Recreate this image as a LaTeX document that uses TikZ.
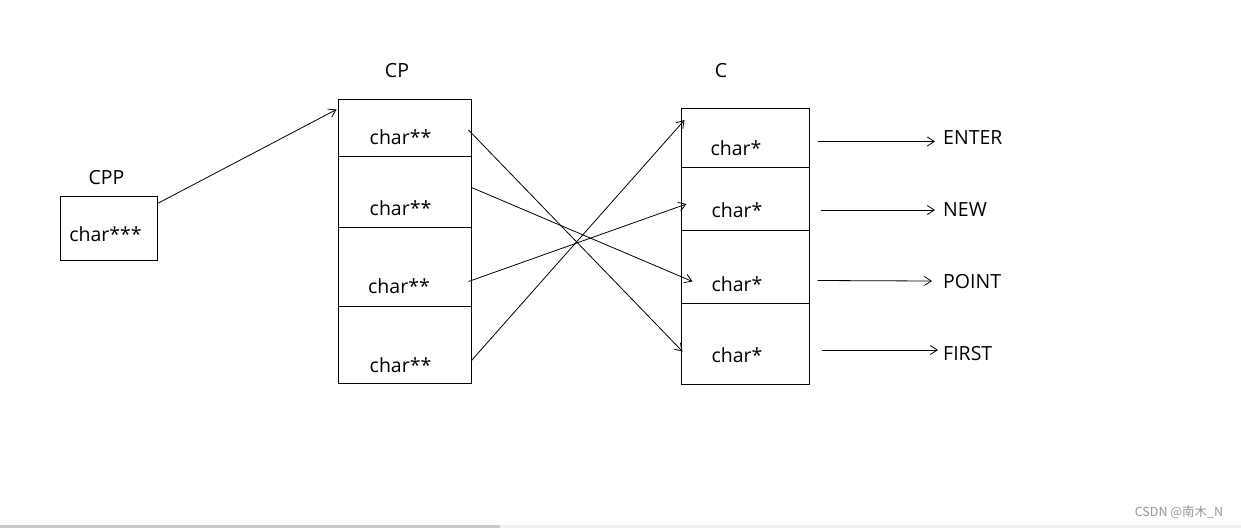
\documentclass[tikz,border=0pt]{standalone}
\usepackage{fontspec}
\setmainfont{Open Sans}
\newfontfamily\cjkfont{Noto Sans CJK SC}
\usetikzlibrary{arrows.meta, positioning}
\definecolor{markgray}{RGB}{150,150,150}
\definecolor{barA}{RGB}{200,200,200}
\definecolor{barB}{RGB}{240,240,240}
\tikzstyle{cell} = [rectangle, draw=black, line width=1pt, inner sep=0pt]
\tikzstyle{word} = [inner sep=0pt, font=\fontsize{19.5}{23}\selectfont]
\tikzstyle{arrow} = [line width=0.8pt, -{Straight Barb[length=7pt,width=9pt]}]

\begin{document}
\begin{tikzpicture}[x=1pt, y=-1pt]
\useasboundingbox (0,0) rectangle (1241,528);
% CPP
\node (cppbox) [cell, minimum width=97pt, minimum height=64pt] at (108.5,228) {};
\node (cpptitle) [word] at (106.5,178) {CPP};
\node (cpptext) [word] at (105.5,234.5) {char***};
% CP
\node (cptitle) [word] at (397,71) {CP};
\node (cp1) [cell, minimum width=133pt, minimum height=57pt] at (404.5,127.5) {};
\node (cp2) [cell, minimum width=133pt, minimum height=71pt] at (404.5,191.5) {};
\node (cp3) [cell, minimum width=133pt, minimum height=79pt] at (404.5,266.5) {};
\node (cp4) [cell, minimum width=133pt, minimum height=77pt] at (404.5,344.5) {};
\node (cptext1) [word] at (400.5,137) {char**};
\node (cptext2) [word] at (400.5,208) {char**};
\node (cptext3) [word] at (399,286) {char**};
\node (cptext4) [word] at (400.5,365) {char**};
% C
\node (ctitle) [word] at (721,71) {C};
\node (c1) [cell, minimum width=128pt, minimum height=59pt] at (745,137.5) {};
\node (c2) [cell, minimum width=128pt, minimum height=63pt] at (745,198.5) {};
\node (c3) [cell, minimum width=128pt, minimum height=73pt] at (745,266.5) {};
\node (c4) [cell, minimum width=128pt, minimum height=81pt] at (745,343.5) {};
\node (ctext1) [word] at (736,148) {char*};
\node (ctext2) [word] at (737,210) {char*};
\node (ctext3) [word] at (737,284) {char*};
\node (ctext4) [word] at (737,355) {char*};
% strings
\node (enter) [word, anchor=base west] at (943,144) {ENTER};
\node (new) [word, anchor=base west] at (943,216) {NEW};
\node (point) [word, anchor=base west] at (943,288) {POINT};
\node (first) [word, anchor=base west] at (943,360) {FIRST};

% Arrows
\draw [arrow] ([yshift=24.5pt]cppbox.east) -- ([xshift=-1pt,yshift=18pt]cp1.west);
\draw [arrow] ([xshift=-3pt,yshift=-2.5pt]cp1.east) -- ([xshift=2pt,yshift=-8pt]c4.west);
\draw [arrow] ([yshift=4pt]cp2.east) -- ([xshift=12pt,yshift=-15pt]c3.west);
\draw [arrow] ([xshift=-3pt,yshift=-15pt]cp3.east) -- ([xshift=6pt,yshift=-5.5pt]c2.west);
\draw [arrow] ([yshift=-16pt]cp4.east) -- ([xshift=4pt,yshift=17.5pt]c1.west);
\draw [arrow] ([xshift=8pt,yshift=-4pt]c1.east) -- ([xshift=-8pt,yshift=2.5pt]enter.base west);
\draw [arrow] ([xshift=11pt,yshift=-11.5pt]c2.east) -- ([xshift=-8pt,yshift=6pt]new.base west);
\draw [arrow] ([xshift=8pt,yshift=-14pt]c3.east) -- ([xshift=-11pt,yshift=7pt]point.base west);
\draw [arrow] ([xshift=12pt,yshift=-6.5pt]c4.east) -- ([xshift=-5pt,yshift=10pt]first.base west);

% watermark and bottom edge
\node (mark) [inner sep=0pt, text=markgray, font=\cjkfont\fontsize{12.5}{15}\selectfont] at (1179,512) {CSDN @南木\_N};
\fill [barA] (0,525) rectangle (500,528);
\fill [barB] (500,525) rectangle (1241,528);
\end{tikzpicture}
\end{document}
